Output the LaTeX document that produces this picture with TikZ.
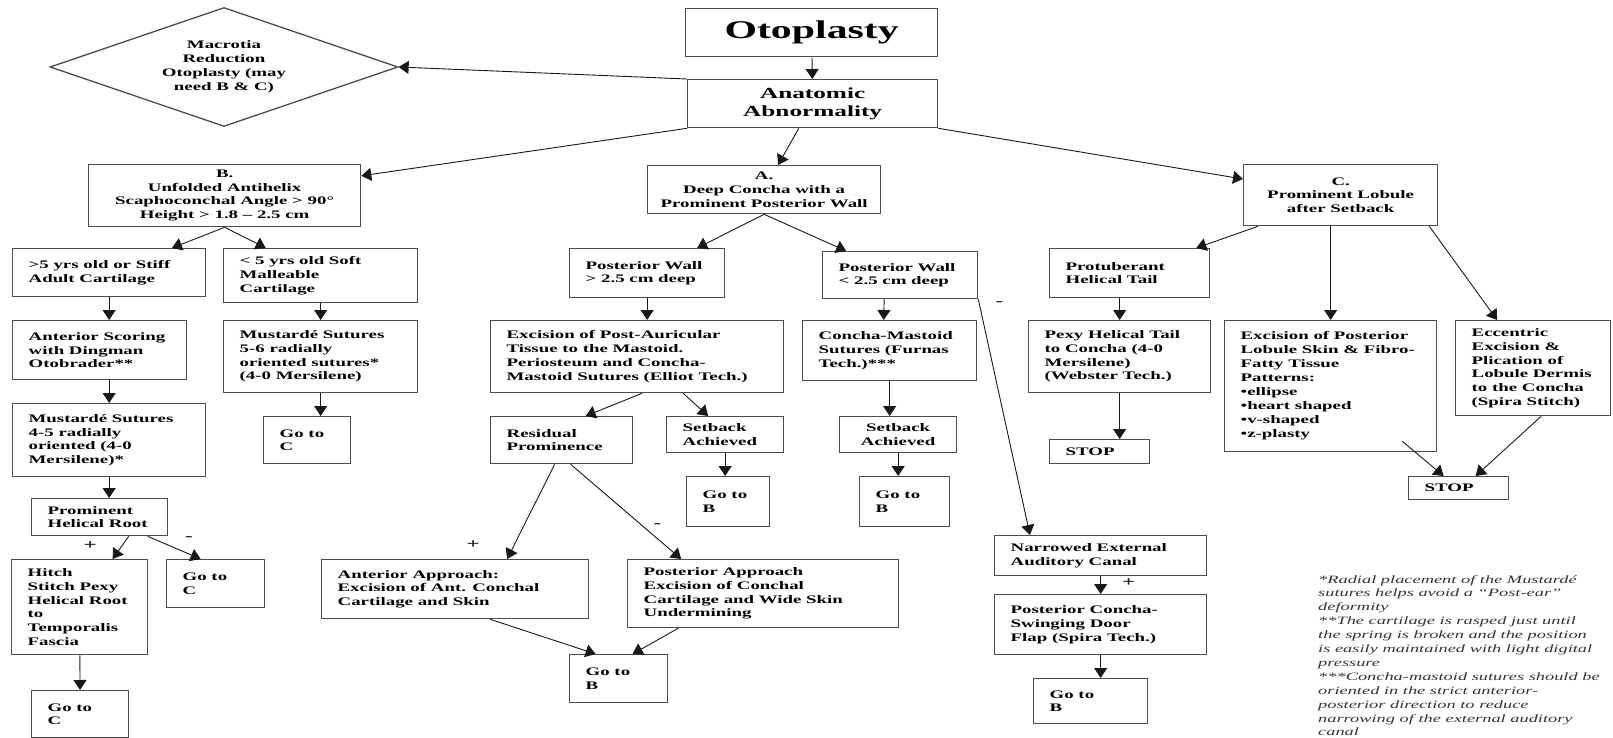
\documentclass[tikz,border=0pt]{standalone}
\usepackage{fontspec}
\setmainfont{Liberation Serif}[FakeStretch=1.64]
\usetikzlibrary{arrows.meta, shapes.geometric}

\begin{document}
\begin{tikzpicture}[
  x=1pt, y=-1pt,
  box/.style={draw=black!70, line width=1.3pt, anchor=north west, align=flush left,
              inner xsep=16pt, inner ysep=2pt, font=\bfseries\fontsize{11.5}{13.7}\selectfont},
  cbox/.style={box, align=flush center, inner xsep=8pt},
  arr/.style={-{Triangle[length=10pt, width=13pt]}, line width=0.9pt, black!90},
  sign/.style={font=\bfseries\fontsize{14}{14}\selectfont, inner sep=0pt},
  note/.style={anchor=north west, align=left, inner sep=0pt, black!80,
               font=\itshape\fontsize{11.2}{13.9}\selectfont},
]
\useasboundingbox (0,0) rectangle (1613,738);

% top of the tree
\node[cbox, text width=236pt, minimum height=48pt, font=\bfseries\fontsize{25.5}{28}\selectfont] (oto) at (685,8) {Otoplasty};
\node[cbox, text width=234pt, minimum height=48pt, font=\bfseries\fontsize{15.4}{17.5}\selectfont] (anat) at (687,79) {Anatomic\\Abnormality};
\node[diamond, aspect=2.9, draw=black!70, line width=1.3pt, minimum width=348pt, minimum height=119pt, inner sep=0pt,
      align=center, font=\bfseries\fontsize{11.5}{14}\selectfont] (macro) at (224,67)
      {Macrotia\\Reduction\\Otoplasty (may\\need B \& C)};
\node[cbox, text width=256pt, minimum height=62pt] (probB) at (88,164) {B.\\Unfolded Antihelix\\Scaphoconchal Angle > 90°\\Height > 1.8 -- 2.5 cm};
\node[cbox, text width=217pt, minimum height=48pt] (probA) at (647,165) {A.\\Deep Concha with a\\Prominent Posterior Wall};
\node[cbox, text width=178pt, minimum height=61pt] (probC) at (1243,164) {C.\\Prominent Lobule\\after Setback};

% B branch
\node[box, text width=161pt, minimum height=48pt] (stiff) at (12,248) {>5 yrs old or Stiff\\Adult Cartilage};
\node[box, text width=162pt, minimum height=54pt] (soft) at (223,248) {< 5 yrs old Soft\\Malleable\\Cartilage};
\node[box, text width=142pt, minimum height=59pt] (scoring) at (12,320) {Anterior~Scoring\\with Dingman\\Otobrader**};
\node[box, text width=162pt, minimum height=72pt] (mustA) at (223,320) {Mustardé Sutures\\5-6 radially\\oriented sutures*\\(4-0 Mersilene)};
\node[box, text width=55pt, minimum height=47pt] (gotoCa) at (263,416) {Go to\\C};
\node[box, text width=161pt, minimum height=73pt] (mustB) at (12,403) {Mustardé Sutures\\4-5 radially\\oriented (4-0\\Mersilene)*};
\node[box, text width=104pt, minimum height=37pt] (helroot) at (31,498) {Prominent\\Helical~Root};
\node[box, text width=104pt, minimum height=95pt] (hitch) at (11,559) {Hitch\\Stitch Pexy\\Helical~Root\\to\\Temporalis\\Fascia};
\node[box, text width=66pt, minimum height=48pt] (gotoCb) at (166,559) {Go to\\C};
\node[box, text width=65pt, minimum height=47pt] (gotoCc) at (31,690) {Go to\\C};

% A branch
\node[box, text width=123pt, minimum height=49pt] (wallDeep) at (569,248) {Posterior~Wall\\> 2.5 cm deep};
\node[box, text width=123pt, minimum height=47pt] (wallShal) at (822,251) {Posterior~Wall\\< 2.5 cm deep};
\node[box, text width=261pt, minimum height=72pt] (elliot) at (490,320) {Excision of Post-Auricular\\Tissue to the Mastoid.\\Periosteum and Concha-\\Mastoid Sutures (Elliot Tech.)};
\node[box, text width=142pt, minimum height=60pt] (furnas) at (802,320) {Concha-Mastoid\\Sutures (Furnas\\Tech.)***};
\node[box, text width=110pt, minimum height=47pt] (residual) at (490,416) {Residual\\Prominence};
\node[box, text width=85pt, minimum height=36pt] (setbackA) at (666,416) {Setback\\Achieved};
\node[cbox, text width=101pt, minimum height=36pt] (setbackB) at (839,416) {Setback\\Achieved};
\node[box, text width=51pt, minimum height=50pt] (gotoBa) at (686,476) {Go to\\B};
\node[box, text width=58pt, minimum height=50pt] (gotoBb) at (859,476) {Go to\\B};
\node[box, text width=235pt, minimum height=59pt] (antAppr) at (321,559) {Anterior Approach:\\Excision of Ant. Conchal\\Cartilage and Skin};
\node[box, text width=239pt, minimum height=68pt] (postAppr) at (627,559) {Posterior Approach\\Excision of Conchal\\Cartilage and Wide Skin\\Undermining};
\node[box, text width=66pt, minimum height=48pt] (gotoBc) at (569,654) {Go to\\B};
\node[box, text width=180pt, minimum height=40pt] (canal) at (994,535) {Narrowed External\\Auditory Canal};
\node[box, text width=180pt, minimum height=60pt] (door) at (994,594) {Posterior Concha-\\Swinging Door\\Flap (Spira Tech.)};
\node[box, text width=82pt, minimum height=45pt] (gotoBd) at (1033,678) {Go to\\B};

% C branch
\node[box, text width=128pt, minimum height=49pt] (tail) at (1049,248) {Protuberant\\Helical Tail};
\node[box, text width=150pt, minimum height=72pt] (webster) at (1028,320) {Pexy Helical Tail\\to Concha (4-0\\Mersilene)\\(Webster Tech.)};
\node[box, text width=68pt, minimum height=24pt] (stopA) at (1049,439) {STOP};
\node[box, text width=180pt, minimum height=131pt, font=\bfseries\fontsize{11.5}{14}\selectfont] (lobule) at (1224,320)
  {Excision of Posterior\\Lobule Skin \& Fibro-\\Fatty Tissue\\Patterns:\\•ellipse\\•heart shaped\\•v-shaped\\•z-plasty};
\node[box, text width=123pt, minimum height=95pt] (dermis) at (1455,320) {Eccentric\\Excision \&\\Plication of\\Lobule~Dermis\\to the Concha\\(Spira Stitch)};
\node[box, text width=68pt, minimum height=23pt] (stopB) at (1408,476) {STOP};

% footnotes
\node[note] (notes) at (1318,575) {*Radial placement of the Mustardé\\
sutures helps avoid a ``Post-ear''\\
deformity\\
**The cartilage is rasped just until\\
the spring is broken and the position\\
is easily maintained with light digital\\
pressure\\
***Concha-mastoid sutures should be\\
oriented in the strict anterior-\\
posterior direction to reduce\\
narrowing of the external auditory\\
canal};

% connectors
\draw[arr] (oto) -- (anat);
\draw[arr] (anat.north west) -- (macro.east);
\draw[arr] (anat.south west) -- (probB);
\draw[arr] (anat) -- (probA);
\draw[arr] (anat.south east) -- (probC);

\draw[arr] (probB.south) -- (stiff);
\draw[arr] (probB.south) -- (soft);
\draw[arr] (stiff.south) -- (stiff.south |- scoring.north);
\draw[arr] (scoring.south -| stiff.south) -- (mustB);
\draw[arr] (mustB.south) -- (mustB.south |- helroot.north);
\draw[arr] ([xshift=29pt]helroot.south) -- node[sign, pos=0.4, xshift=-32pt]{+} ([xshift=33pt]hitch.north);
\draw[arr] ([xshift=48pt]helroot.south) -- node[sign, pos=0.1, xshift=36pt]{-} ([xshift=-15pt]gotoCb.north);
\draw[arr] (hitch) -- (gotoCc);
\draw[arr] (soft) -- (mustA);
\draw[arr] (mustA.south) -- (mustA.south |- gotoCa.north);

\draw[arr] (probA.south) -- (wallDeep);
\draw[arr] (probA.south) -- (wallShal);
\draw[arr] (wallDeep.south) -- (wallDeep.south |- elliot.north);
\draw[arr] ([xshift=5pt]elliot.south) -- ([xshift=24pt]residual.north);
\draw[arr] ([xshift=46pt]elliot.south) -- ([xshift=-17pt]setbackA.north);
\draw[arr] (setbackA.south) -- (setbackA.south |- gotoBa.north);
\draw[arr] ([xshift=-7pt]residual.south) -- node[sign, pos=0.85, xshift=-41pt]{+} ([xshift=52pt]antAppr.north);
\draw[arr] ([xshift=9pt]residual.south) -- node[sign, pos=0.65, xshift=15pt]{-} ([xshift=-82pt]postAppr.north);
\draw[arr] ([xshift=35pt]antAppr.south) -- ([xshift=-23pt]gotoBc.north);
\draw[arr] ([xshift=-85pt]postAppr.south) -- ([xshift=14pt]gotoBc.north);
\draw[arr] ([xshift=-16pt]wallShal.south) -- ([xshift=-6pt]furnas.north);
\draw[arr] (furnas.south) -- (furnas.south |- setbackB.north);
\draw[arr] (setbackB.south) -- (setbackB.south |- gotoBb.north);
\draw[arr] (wallShal.south east) -- node[sign, pos=0.02, xshift=20pt]{-} ([xshift=36pt]canal.north west);
\draw[arr] (canal) -- node[sign, midway, xshift=28pt, yshift=2.5pt]{+} (door);
\draw[arr] (door.south) -- (door.south |- gotoBd.north);

\draw[arr] ([xshift=15pt]probC.south west) -- ([xshift=-14pt]tail.north east);
\draw[arr] (probC.south -| lobule.north) -- (lobule.north);
\draw[arr] ([xshift=-9pt]probC.south east) -- ([xshift=-36pt]dermis.north);
\draw[arr] (tail.south -| webster.north) -- (webster.north);
\draw[arr] (webster.south) -- (webster.south |- stopA.north);
\draw[arr] ([xshift=-35pt, yshift=11pt]lobule.south east) -- ([xshift=-15pt]stopB.north);
\draw[arr] ([xshift=8pt]dermis.south) -- ([xshift=17pt]stopB.north);

\end{tikzpicture}
\end{document}
